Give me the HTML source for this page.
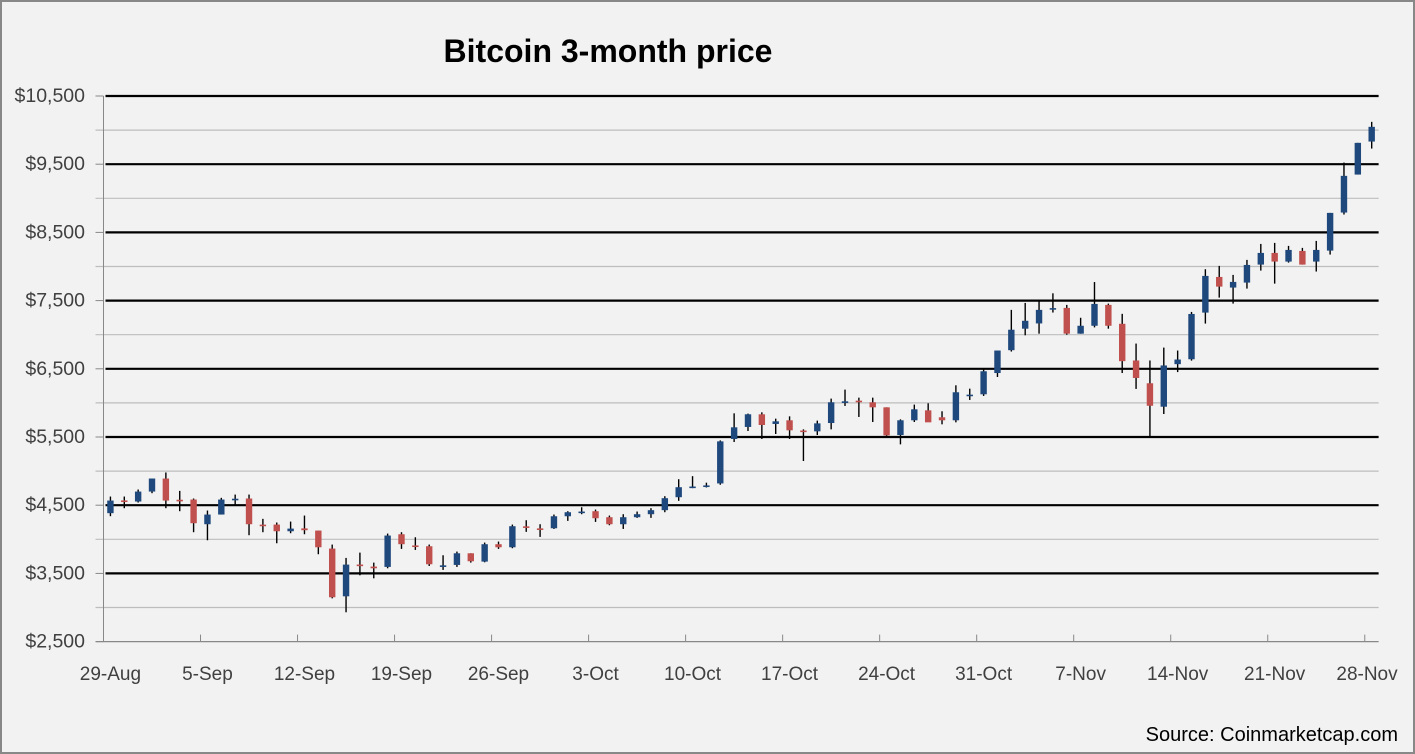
<!DOCTYPE html>
<html><head><meta charset="utf-8"><style>
html,body{margin:0;padding:0;background:#f2f2f2;}
#wrap{position:relative;width:1415px;height:754px;box-sizing:border-box;border:2px solid #888;background:#f2f2f2;overflow:hidden;font-family:"Liberation Sans",sans-serif;}
</style></head><body>
<div id="wrap">
<svg id="chart" width="1415" height="754" style="position:absolute;left:-2px;top:-2px">
<text x="608" y="62" text-anchor="middle" font-family="Liberation Sans, sans-serif" font-weight="bold" font-size="32" fill="#000">Bitcoin 3-month price</text>
<text x="1398" y="741" text-anchor="end" font-family="Liberation Sans, sans-serif" font-size="20" fill="#000">Source: Coinmarketcap.com</text>
</svg>
</div>
<script>
const opens=[4383,4570,4554,4700,4891,4580,4583,4221,4363,4590,4598,4215,4216,4118,4160,4128,3864,3164,3630,3600,3595,4074,3910,3898,3612,3624,3795,3673,3928,3883,4190,4160,4162,4338,4405,4412,4324,4221,4324,4368,4427,4617,4772,4780,4819,5471,5647,5833,5691,5745,5595,5583,5705,5999,6033,6009,5935,5529,5745,5891,5789,5745,6117,6126,6438,6773,7088,7165,7385,7393,7015,7131,7437,7160,6622,6288,5944,6568,6640,7324,7847,7691,7764,8028,8199,8072,8228,8072,8233,8791,9348,9832];
const highs=[4627,4627,4730,4891,4980,4710,4598,4422,4608,4656,4656,4300,4246,4260,4348,4128,3923,3727,3805,3658,4084,4104,4030,3923,3766,3820,3795,3952,3967,4216,4280,4221,4363,4412,4470,4436,4348,4368,4407,4456,4632,4881,4926,4830,5450,5847,5843,5862,5769,5803,5612,5740,6063,6195,6077,6077,5935,5759,5975,5994,5877,6258,6209,6493,6768,7364,7466,7500,7607,7437,7248,7772,7456,7306,6870,6622,6811,6768,7334,7960,8009,7877,8097,8331,8346,8302,8273,8375,8786,9524,9813,10121];
const lows=[4339,4456,4539,4676,4456,4412,4104,3986,4363,4510,4060,4104,3942,4089,4074,3781,3134,2930,3472,3428,3575,3859,3844,3609,3551,3595,3658,3663,3859,3869,4109,4035,4152,4270,4368,4255,4206,4152,4314,4314,4397,4564,4750,4760,4800,5427,5588,5471,5544,5471,5148,5529,5612,5955,5794,5720,5515,5392,5720,5720,5686,5715,6043,6102,6380,6753,6991,7015,7325,7000,7015,7107,7088,6438,6205,5507,5837,6452,6620,7163,7544,7456,7676,7940,7749,8057,8028,7926,8175,8762,9348,9729];
const closes=[4568,4560,4700,4891,4568,4575,4236,4363,4583,4595,4221,4211,4118,4157,4133,3883,3150,3629,3624,3575,4055,3928,3908,3634,3618,3795,3678,3928,3883,4192,4186,4157,4338,4397,4407,4309,4221,4324,4368,4427,4603,4764,4774,4790,5436,5642,5833,5676,5730,5598,5590,5700,6009,6023,6009,5935,5524,5745,5906,5715,5745,6156,6121,6464,6768,7073,7204,7364,7390,7015,7131,7451,7131,6612,6365,5958,6549,6636,7304,7862,7705,7774,8023,8199,8072,8243,8028,8243,8786,9329,9813,10048];
const xLabels=["29-Aug","5-Sep","12-Sep","19-Sep","26-Sep","3-Oct","10-Oct","17-Oct","24-Oct","31-Oct","7-Nov","14-Nov","21-Nov","28-Nov"];
const yTicks=[2500,3500,4500,5500,6500,7500,8500,9500,10500];
const yMinor=[3000,4000,5000,6000,7000,8000,9000,10000];

const NS="http://www.w3.org/2000/svg";
const svg=document.getElementById('chart');
const X0=103.5, SLOT=13.86, NSLOT=92, X1=X0+SLOT*NSLOT;
const yScale=p=>96+(10500-p)*0.0682;
const xScale=i=>X0+(i+0.5)*SLOT;
function mk(tag,attrs){const e=document.createElementNS(NS,tag);for(const k in attrs)e.setAttribute(k,attrs[k]);svg.appendChild(e);return e;}

yMinor.forEach(v=>{
  const l=mk('line',{x1:X0-8,x2:X1,y1:yScale(v),y2:yScale(v),stroke:'#bdbdbd','stroke-width':1.2});
  
  
});
yTicks.forEach(v=>{
  const y=yScale(v);
  if(v>2500){
    const l=mk('line',{x1:X0+2,x2:X1,y1:y,y2:y,stroke:'#000','stroke-width':2.2});
    
    
  }
  const t=mk('line',{x1:X0-8,x2:X0,y1:y,y2:y,stroke:'#888','stroke-width':1});
  
  
  const tx=mk('text',{x:85,y:y+6,'text-anchor':'end','font-size':19.5,fill:'#404040','font-family':'Liberation Sans, sans-serif'});
  tx.textContent='$'+v.toLocaleString('en-US');
  
  
});
const ya=mk('line',{x1:X0,x2:X0,y1:96,y2:yScale(2500),stroke:'#888','stroke-width':1});


const xa=mk('line',{x1:X0-8,x2:X1,y1:yScale(2500),y2:yScale(2500),stroke:'#888','stroke-width':1.2});


xLabels.forEach((lab,k)=>{
  const xb=X0+k*7*SLOT;
  const t=mk('line',{x1:xb,x2:xb,y1:yScale(2500)-7,y2:yScale(2500),stroke:'#888','stroke-width':1});
  
  
  let cx=xScale(k*7); if(cx>1360) cx=1367;
  const tx=mk('text',{x:cx,y:680,'text-anchor':'middle','font-size':19,fill:'#404040','font-family':'Liberation Sans, sans-serif'});
  tx.textContent=lab;
  
  
});
opens.forEach((o,i)=>{
  const c=closes[i], h=highs[i], l=lows[i], x=xScale(i);
  const up=c>=o;
  const w=mk('line',{x1:x,x2:x,y1:yScale(h),y2:yScale(l),stroke:'#000','stroke-width':1.4});
  
  
  const top=yScale(Math.max(o,c)), bot=yScale(Math.min(o,c));
  const b=mk('rect',{x:x-3.2,y:top,width:6.4,height:Math.max(bot-top,1.6),fill:up?'#1f497d':'#c0504d'});
  
  
});
</script>
</body></html>
